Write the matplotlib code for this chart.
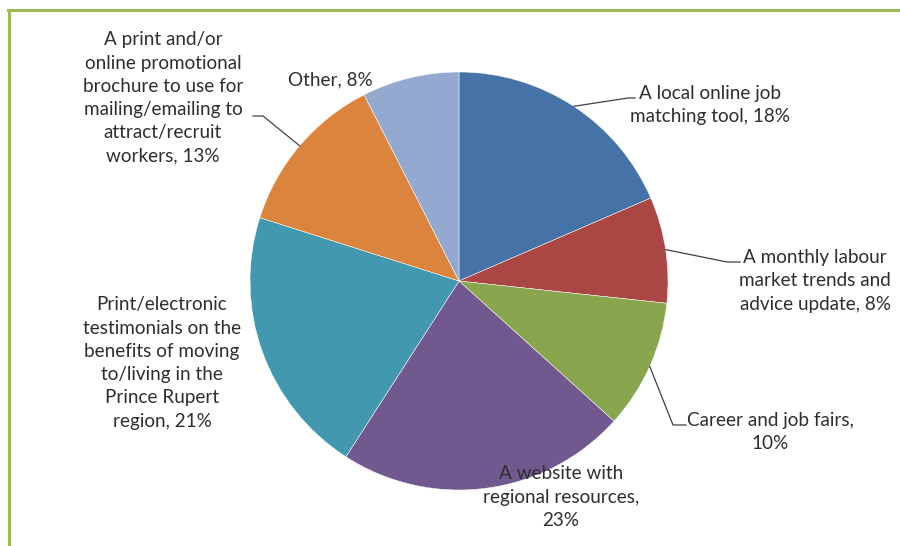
import numpy as np
import matplotlib
matplotlib.use("Agg")
import matplotlib.pyplot as plt
from matplotlib.lines import Line2D

# Données du camembert
categories = [
    "A local online job\nmatching tool",
    "A monthly labour\nmarket trends and\nadvice update",
    "Career and job fairs,\n",
    "A website with\nregional resources,\n",
    "Print/electronic\ntestimonials on the\nbenefits of moving\nto/living in the\nPrince Rupert\nregion",
    "A print and/or\nonline promotional\nbrochure to use for\nmailing/emailing to\nattract/recruit\nworkers",
    "Other",
]
shares = [18.5, 8.2, 10.0, 22.4, 20.8, 12.6, 7.5]
pct_labels = ["18%", "8%", "10%", "23%", "21%", "13%", "8%"]
colors = ["#4572A7", "#AA4643", "#89A54E", "#71588F", "#4198AF", "#DB843D", "#93A9CF"]

W, H = 900, 546
fig = plt.figure(figsize=(W / 100, H / 100), dpi=100)
ax = fig.add_axes([0, 0, 1, 1])

cx, cy, r = 459, 265, 209
wedges, _ = ax.pie(shares, colors=colors, startangle=90, counterclock=False,
                   center=(cx, cy), radius=r,
                   wedgeprops=dict(edgecolor="white", linewidth=0.35))
ax.set_xlim(0, W)
ax.set_ylim(0, H)
ax.set_aspect("equal")
ax.axis("off")

# position des étiquettes (x, y, coude du trait ou None)
label_pos = [
    (710, 441, (628, 448, 635)),
    (815, 265, (727, 284, 740)),
    (770, 114, (673, 121, 686)),
    (561, 49, None),
    (162, 183, None),
    (163, 448, (263, 430, 253)),
    (330, 466, None),
]

txt_color = "#2e2e2e"
for w, cat, pct, (tx, ty, elbow) in zip(wedges, categories, pct_labels, label_pos):
    if cat.endswith("\n"):
        label = cat + pct
    else:
        label = cat + ", " + pct
    ax.text(tx, ty, label, ha="center", va="center", fontsize=13.6,
            family="Lato", color=txt_color, linespacing=1.45, zorder=5)
    if elbow is not None:
        # trait de rappel depuis le milieu du secteur
        ang = np.deg2rad((w.theta1 + w.theta2) / 2)
        x0 = cx + r * np.cos(ang)
        y0 = cy + r * np.sin(ang)
        ex, ey, ex2 = elbow
        ax.plot([x0, ex, ex2], [y0, ey, ey], color="#404040", lw=0.9, zorder=4)

# bordure verte du graphique (coupée à droite et en bas)
fig.add_artist(Line2D([8.5 / W, 8.5 / W], [0, 1 - 10 / H], transform=fig.transFigure,
                      color="#9BBB59", lw=2.2))
fig.add_artist(Line2D([8 / W, 1], [1 - 10 / H, 1 - 10 / H], transform=fig.transFigure,
                      color="#9BBB59", lw=2.2))

plt.savefig("out.png", dpi=100)
plt.close()
